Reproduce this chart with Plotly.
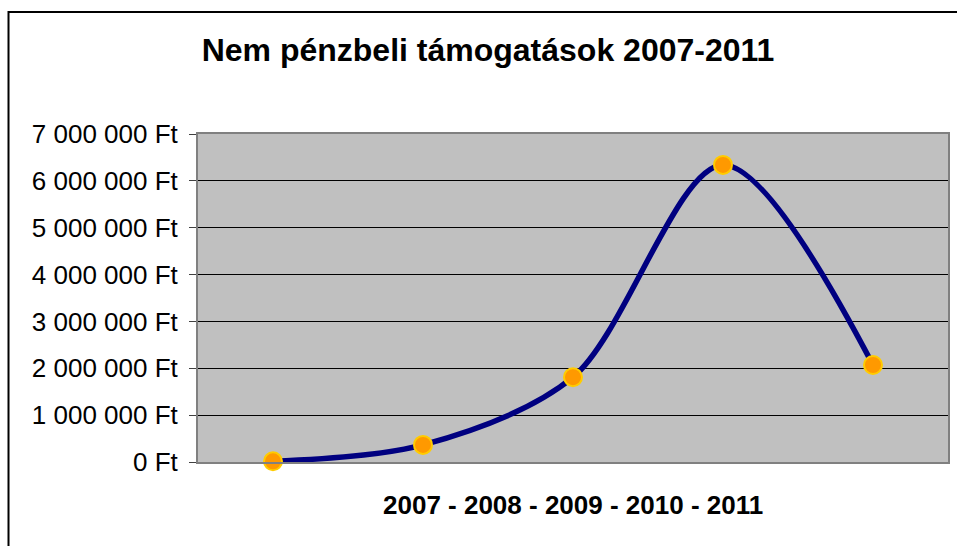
import plotly.graph_objects as go

# Non-monetary support per year (HUF)
years = ["2007", "2008", "2009", "2010", "2011"]
values = [15000, 365000, 1810000, 6340000, 2070000]

tick_values = [0, 1000000, 2000000, 3000000, 4000000, 5000000, 6000000, 7000000]
tick_labels = ["0 Ft", "1 000 000 Ft", "2 000 000 Ft", "3 000 000 Ft",
               "4 000 000 Ft", "5 000 000 Ft", "6 000 000 Ft", "7 000 000 Ft"]

title_text = "Nem pénzbeli támogatások 2007-2011"
x_title = "2007 - 2008 - 2009 - 2010 - 2011"

W, H = 957, 546
L, R, T, B = 198, 7, 134, 84
pw, ph = W - L - R, H - T - B

fig = go.Figure()
fig.add_trace(go.Scatter(
    x=years, y=values,
    mode="lines+markers",
    line=dict(color="#000080", width=5.5, shape="spline", smoothing=0.9),
    marker=dict(size=18, color="#FF9900", line=dict(color="#FFCC00", width=2)),
    cliponaxis=False,
    hoverinfo="x+y",
))

def px_x(x):
    return (x - L) / pw

def px_y(y):
    return (H - B - y) / ph

fig.update_layout(
    width=W, height=H,
    margin=dict(l=L, r=R, t=T, b=B),
    paper_bgcolor="white",
    plot_bgcolor="#C0C0C0",
    showlegend=False,
    font=dict(family="Liberation Sans, Arial, sans-serif", color="black"),
    title=dict(
        text="<b>" + title_text + "</b>",
        x=488 / W, xanchor="center", xref="container",
        y=1 - 50 / H, yanchor="middle", yref="container",
        font=dict(size=32, color="black"),
    ),
    xaxis=dict(
        type="category",
        range=[-0.5, 4.5],
        showticklabels=False,
        showgrid=False,
        zeroline=False,
        showline=True, linecolor="#808080", linewidth=2, mirror=True,
        ticks="",
    ),
    yaxis=dict(
        range=[0, 7000000],
        tickvals=tick_values,
        ticktext=tick_labels,
        tickfont=dict(size=26, color="black"),
        ticks="outside", ticklen=7, tickcolor="#404040", tickwidth=1,
        ticklabelstandoff=6,
        showgrid=True, gridcolor="black", gridwidth=1,
        zeroline=False,
        showline=True, linecolor="#808080", linewidth=2, mirror=True,
    ),
    annotations=[dict(
        text="<b>" + x_title + "</b>",
        x=(574 - L) / pw, xref="paper", xanchor="center",
        y=px_y(505), yref="paper", yanchor="middle",
        showarrow=False,
        font=dict(size=26, color="black"),
    )],
    shapes=[dict(
        type="rect", xref="paper", yref="paper",
        x0=px_x(8), x1=px_x(W + 20),
        y0=px_y(H + 20), y1=px_y(12),
        line=dict(color="black", width=2),
        fillcolor="rgba(0,0,0,0)",
        layer="above",
    )],
)

fig.write_html("out.html")
